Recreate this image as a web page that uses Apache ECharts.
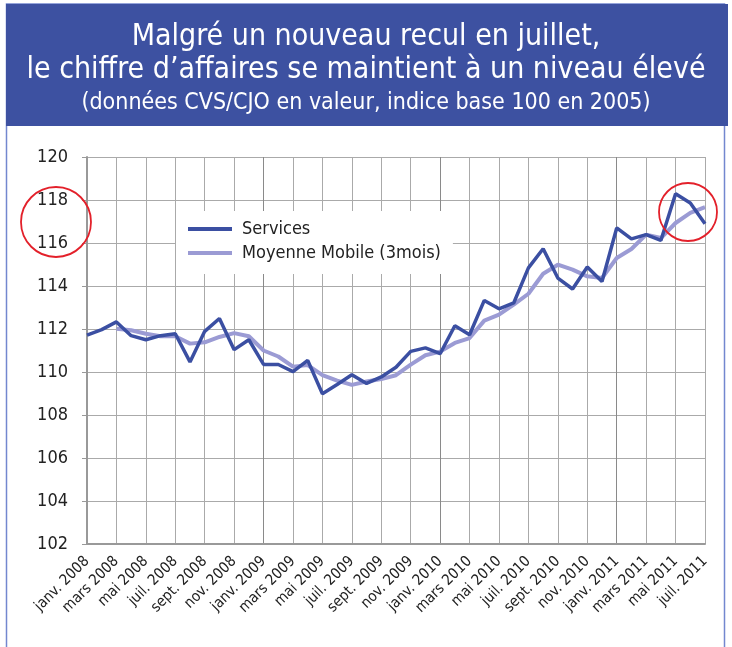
<!DOCTYPE html>
<html>
<head>
<meta charset="utf-8">
<title>Chiffre d'affaires des services</title>
<script src="https://cdn.jsdelivr.net/npm/echarts@6/dist/echarts.min.js"></script>
<style>
  html, body { margin: 0; padding: 0; background: #fff; }
  #main { width: 732px; height: 647px; }
</style>
</head>
<body>
<div id="main"></div>
<script>
// mois de janv. 2008 a juil. 2011
const months = [
  'janv. 2008', 'févr. 2008', 'mars 2008', 'avr. 2008', 'mai 2008', 'juin 2008',
  'juil. 2008', 'août 2008', 'sept. 2008', 'oct. 2008', 'nov. 2008', 'déc. 2008',
  'janv. 2009', 'févr. 2009', 'mars 2009', 'avr. 2009', 'mai 2009', 'juin 2009',
  'juil. 2009', 'août 2009', 'sept. 2009', 'oct. 2009', 'nov. 2009', 'déc. 2009',
  'janv. 2010', 'févr. 2010', 'mars 2010', 'avr. 2010', 'mai 2010', 'juin 2010',
  'juil. 2010', 'août 2010', 'sept. 2010', 'oct. 2010', 'nov. 2010', 'déc. 2010',
  'janv. 2011', 'févr. 2011', 'mars 2011', 'avr. 2011', 'mai 2011', 'juin 2011',
  'juil. 2011'
];

const services = [
  111.72, 111.97, 112.33, 111.69, 111.50, 111.69, 111.78, 110.47, 111.89, 112.49,
  111.04, 111.50, 110.35, 110.35, 110.02, 110.54, 108.99, 109.42, 109.87, 109.47,
  109.77, 110.22, 110.96, 111.12, 110.85, 112.15, 111.73, 113.33, 112.94, 113.21,
  114.84, 115.73, 114.37, 113.86, 114.88, 114.21, 116.70, 116.19, 116.39, 116.12,
  118.29, 117.86, 116.90
];

const moyenneMobile = [
  null, null, 112.01, 111.94, 111.78, 111.66, 111.66, 111.32, 111.38, 111.63,
  111.81, 111.66, 111.00, 110.72, 110.25, 110.32, 109.85, 109.60, 109.40, 109.56,
  109.67, 109.85, 110.34, 110.78, 110.95, 111.35, 111.58, 112.39, 112.67, 113.13,
  113.64, 114.57, 114.99, 114.76, 114.45, 114.37, 115.30, 115.72, 116.39, 116.23,
  116.93, 117.40, 117.67
];

const yTicks = { min: 102, max: 120, step: 2 };

const FONT = "'DejaVu Sans Condensed', 'DejaVu Sans', sans-serif";
const BLUE = '#3d51a1';

var chart = echarts.init(document.getElementById('main'));

var option = {
  animation: false,
  backgroundColor: '#fff',
  textStyle: { fontFamily: FONT },
  title: [
    {
      text: 'Malgré un nouveau recul en juillet,',
      left: 'center', top: 17,
      textStyle: { color: '#fff', fontSize: 30, fontWeight: 'normal', fontFamily: FONT }
    },
    {
      text: 'le chiffre d’affaires se maintient à un niveau élevé',
      left: 'center', top: 50,
      textStyle: { color: '#fff', fontSize: 30, fontWeight: 'normal', fontFamily: FONT }
    },
    {
      text: '(données CVS/CJO en valeur, indice base 100 en 2005)',
      left: 'center', top: 87,
      textStyle: { color: '#fff', fontSize: 23, fontWeight: 'normal', fontFamily: FONT }
    }
  ],
  graphic: [
    {
      type: 'rect', z: -10, silent: true,
      shape: { x: 6.5, y: 4, width: 718, height: 660 },
      style: { fill: 'none', stroke: '#7387cf', lineWidth: 1.5 }
    },
    {
      type: 'rect', z: -5, silent: true,
      shape: { x: 6, y: 4, width: 722, height: 122 },
      style: { fill: BLUE }
    },
    // cercles rouges (annotations)
    {
      type: 'circle', z: 100, silent: true,
      shape: { cx: 56, cy: 222, r: 35 },
      style: { fill: 'none', stroke: '#e3202a', lineWidth: 1.8 }
    },
    {
      type: 'circle', z: 100, silent: true,
      shape: { cx: 688, cy: 212, r: 29 },
      style: { fill: 'none', stroke: '#e3202a', lineWidth: 1.8 }
    }
  ],
  legend: {
    orient: 'vertical',
    left: 176, top: 211,
    padding: [9, 12, 12, 12],
    backgroundColor: '#fff',
    itemWidth: 44, itemHeight: 4,
    itemGap: 6,
    icon: 'rect',
    textStyle: { fontSize: 18, color: '#222', fontFamily: FONT, padding: [0, 0, 0, 5] },
    data: ['Services', 'Moyenne Mobile (3mois)']
  },
  grid: { left: 87, right: 27, top: 157, bottom: 103, containLabel: false },
  xAxis: {
    type: 'category',
    data: months,
    boundaryGap: false,
    axisLine: { lineStyle: { color: '#999', width: 2 } },
    axisTick: { show: false },
    axisLabel: {
      interval: 1, rotate: 45, margin: 15,
      fontSize: 15, color: '#222', fontFamily: FONT
    },
    splitLine: {
      show: true, interval: 1,
      lineStyle: { color: ['#8a8a8a', '#aaa', '#aaa', '#aaa', '#aaa', '#aaa'], width: 1 }
    }
  },
  yAxis: {
    type: 'value',
    min: yTicks.min, max: yTicks.max, interval: yTicks.step,
    axisLine: { show: true, lineStyle: { color: '#999', width: 2 } },
    axisTick: { show: true, length: 5, lineStyle: { color: '#999' } },
    axisLabel: { margin: 19, fontSize: 18, color: '#222', fontFamily: FONT },
    splitLine: { show: true, lineStyle: { color: '#aaa', width: 1 } }
  },
  series: [
    {
      name: 'Moyenne Mobile (3mois)',
      type: 'line',
      data: moyenneMobile,
      symbol: 'none',
      color: '#9b9bd4',
      lineStyle: { color: '#9b9bd4', width: 4 },
      z: 2
    },
    {
      name: 'Services',
      type: 'line',
      data: services,
      symbol: 'none',
      color: '#3b4fa2',
      lineStyle: { color: '#3b4fa2', width: 3.5 },
      z: 3
    }
  ]
};

chart.setOption(option);
</script>
</body>
</html>
